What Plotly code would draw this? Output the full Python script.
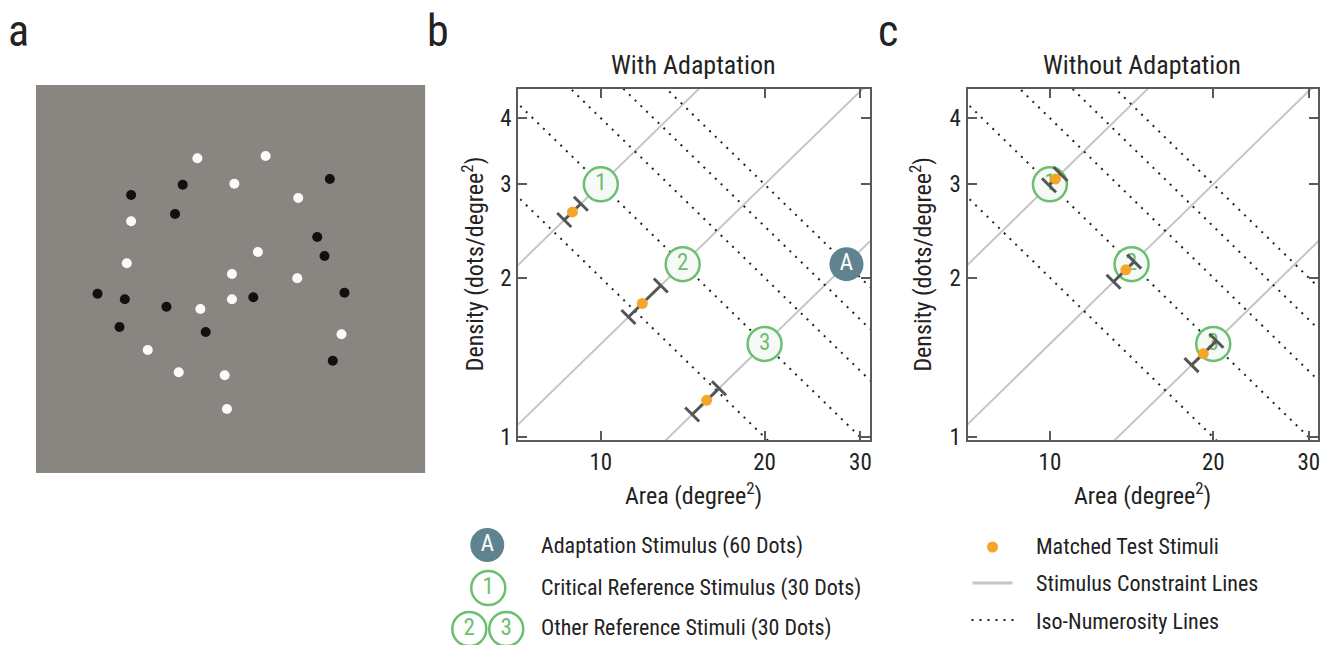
import math
import plotly.graph_objects as go

W, H = 1334, 645          # reference canvas (all layout positions are given in this space)
FIG_H = 656               # page height; the photographed page is rescaled to 645 rows
FONT = "Liberation Sans Narrow, Arial Narrow, Roboto Condensed, Roboto, Liberation Sans, sans-serif"

# ---------------- data ----------------
# panel a: stimulus dots (units: position inside the stimulus square)
white_dot_x = [161.7, 230, 198.7, 262.7, 95.3, 222.3, 91, 196.3, 261.7, 196.3, 164.7, 306, 112, 143, 189, 191.3]
white_dot_y = [73.3, 71, 98.7, 113, 136.3, 167, 178.3, 189, 193.3, 214.3, 224, 249.3, 265, 287.3, 290.3, 324]
black_dot_x = [147, 294.3, 95.3, 139.3, 281.7, 289, 61.7, 89, 309, 130.7, 217.7, 83.7, 170, 297.3]
black_dot_y = [99.7, 94, 110, 129, 152, 171, 208.7, 214.3, 207.7, 221.7, 212.3, 242, 247, 275.7]

# panels b, c
constraint_k = [0.3, 0.15, 0.075]          # density = k * area
iso_numerosity = [20, 30, 40, 50, 60]      # density = N / area
ref_labels = ["1", "2", "3"]
ref_area = [10.0, 14.14, 20.0]
ref_density = [3.0, 2.121, 1.5]
adapt_area = [28.28]
adapt_density = [2.121]
match_k = [0.3, 0.15, 0.075]               # each match lies on its reference's constraint line
b_match_area = [8.87, 11.92, 15.65]
b_err_lo = [8.565, 11.24, 14.72]
b_err_hi = [9.19, 12.89, 16.49]
c_match_area = [10.24, 13.8, 19.17]
c_err_lo = [9.96, 13.1, 18.24]
c_err_hi = [10.46, 14.3, 20.27]
x_ticks = [10, 20, 30]
y_ticks = [1, 2, 3, 4]

# ---------------- style ----------------
GREEN = "#6cbf70"
CIRC_FILL = "#f6faf6"
ADAPT_FILL = "#5f848f"
ORANGE = "#f4a62a"
ERR = "#555555"
CONSTR = "#c6c6c6"
DOT = "#222222"
AXC = "#5a5a5a"
TXT = "#222222"
DOTDASH = "2px,6px"

fig = go.Figure()

# ---------- panel a ----------
fig.add_shape(type="rect", xref="x", yref="y", x0=0, x1=390, y0=0, y1=388,
              fillcolor="#898581", line=dict(width=0), layer="below")
fig.add_trace(go.Scatter(x=black_dot_x, y=black_dot_y, mode="markers", xaxis="x", yaxis="y",
                         marker=dict(size=10, color="#141010", line=dict(width=0)), showlegend=False))
fig.add_trace(go.Scatter(x=white_dot_x, y=white_dot_y, mode="markers", xaxis="x", yaxis="y",
                         marker=dict(size=10, color="#fbfbfb", line=dict(width=0)), showlegend=False))

area_ends = [6.0, 34.0]


def add_panel(xa, ya, m_area, lo, hi, show_adapt, circles_on_top):
    for k in constraint_k:
        fig.add_trace(go.Scatter(x=area_ends, y=[k * a for a in area_ends], mode="lines",
                                 xaxis=xa, yaxis=ya, line=dict(color=CONSTR, width=2),
                                 showlegend=False, hoverinfo="skip"))
    for n in iso_numerosity:
        fig.add_trace(go.Scatter(x=area_ends, y=[n / a for a in area_ends], mode="lines",
                                 xaxis=xa, yaxis=ya, line=dict(color=DOT, width=2, dash=DOTDASH),
                                 showlegend=False, hoverinfo="skip"))

    def circles():
        fig.add_trace(go.Scatter(x=ref_area, y=ref_density, mode="markers+text", text=ref_labels,
                                 textposition="middle center", xaxis=xa, yaxis=ya,
                                 textfont=dict(family=FONT, size=23, color=GREEN),
                                 marker=dict(size=34, color=CIRC_FILL, line=dict(color=GREEN, width=2.5)),
                                 showlegend=False, cliponaxis=False))
        if show_adapt:
            fig.add_trace(go.Scatter(x=adapt_area, y=adapt_density, mode="markers+text", text=["A"],
                                     textposition="middle center", xaxis=xa, yaxis=ya,
                                     textfont=dict(family=FONT, size=23, color="white"),
                                     marker=dict(size=34, color=ADAPT_FILL, line=dict(width=0)),
                                     showlegend=False, cliponaxis=False))

    if not circles_on_top:
        circles()
    # error bars along the constraint lines
    for i in range(len(m_area)):
        k = match_k[i]
        fig.add_trace(go.Scatter(x=[lo[i], hi[i]], y=[k * lo[i], k * hi[i]], mode="lines+markers",
                                 xaxis=xa, yaxis=ya, line=dict(color=ERR, width=3),
                                 marker=dict(symbol="line-nw", size=14, color=ERR,
                                             line=dict(color=ERR, width=3)),
                                 showlegend=False, hoverinfo="skip"))
    fig.add_trace(go.Scatter(x=m_area, y=[match_k[i] * m_area[i] for i in range(len(m_area))],
                             mode="markers", xaxis=xa, yaxis=ya,
                             marker=dict(size=11, color=ORANGE, line=dict(width=0)), showlegend=False))
    if circles_on_top:
        circles()


add_panel("x2", "y2", b_match_area, b_err_lo, b_err_hi, True, True)
add_panel("x3", "y3", c_match_area, c_err_lo, c_err_hi, False, False)

# ---------- legend glyphs (overlay axis in reference-pixel units) ----------
fig.add_trace(go.Scatter(x=[488], y=[545], mode="markers+text", text=["A"], textposition="middle center",
                         xaxis="x4", yaxis="y4", textfont=dict(family=FONT, size=23, color="white"),
                         marker=dict(size=34, color=ADAPT_FILL, line=dict(width=0)), showlegend=False))
fig.add_trace(go.Scatter(x=[489, 470, 507], y=[588, 629, 629], mode="markers+text", text=["1", "2", "3"],
                         textposition="middle center", xaxis="x4", yaxis="y4",
                         textfont=dict(family=FONT, size=23, color=GREEN),
                         marker=dict(size=34, color="white", line=dict(color=GREEN, width=2.5)),
                         showlegend=False))
fig.add_trace(go.Scatter(x=[994], y=[547], mode="markers", xaxis="x4", yaxis="y4",
                         marker=dict(size=11, color=ORANGE, line=dict(width=0)), showlegend=False))
fig.add_trace(go.Scatter(x=[974, 1014], y=[583, 583], mode="lines", xaxis="x4", yaxis="y4",
                         line=dict(color=CONSTR, width=3), showlegend=False))
fig.add_trace(go.Scatter(x=[973, 1018], y=[620, 620], mode="lines", xaxis="x4", yaxis="y4",
                         line=dict(color=DOT, width=2, dash=DOTDASH), showlegend=False))


def px(x):
    return x / W


def py(y):
    return 1 - y / H


ann = []


def text(x, y, s, size, xanchor="center", angle=0, color=TXT):
    ann.append(dict(x=px(x), y=py(y), xref="paper", yref="paper", text=s, showarrow=False,
                    xanchor=xanchor, yanchor="middle", textangle=angle,
                    font=dict(family=FONT, size=size, color=color)))


text(6, 31, "a", 44, "left")
text(426, 31, "b", 44, "left")
text(877, 31, "c", 44, "left")
text(695, 65, "With Adaptation", 26)
text(1144, 65, "Without Adaptation", 26)
text(695, 494, "Area (degree<sup>2</sup>)", 24)
text(1144, 494, "Area (degree<sup>2</sup>)", 24)
text(474, 264, "Density (dots/degree<sup>2</sup>)", 24, angle=-90)
text(922, 264, "Density (dots/degree<sup>2</sup>)", 24, angle=-90)
text(540, 546, "Adaptation Stimulus (60 Dots)", 22, "left")
text(540, 588, "Critical Reference Stimulus (30 Dots)", 22, "left")
text(540, 628, "Other Reference Stimuli (30 Dots)", 22, "left")
text(1036, 546, "Matched Test Stimuli", 22, "left")
text(1036, 583, "Stimulus Constraint Lines", 22, "left")
text(1036, 621, "Iso-Numerosity Lines", 22, "left")

xr = [math.log10(7.05), math.log10(31.2)]
yr = [math.log10(0.988), math.log10(4.54)]


def log_axis(domain, vals, anchor):
    return dict(type="log", domain=domain, range=None, tickvals=vals, ticktext=[str(v) for v in vals],
                ticks="inside", ticklen=9, tickwidth=2, tickcolor=AXC, showline=True, linecolor=AXC,
                linewidth=2, mirror="ticks", showgrid=False, zeroline=False, anchor=anchor,
                tickfont=dict(family=FONT, size=23, color=TXT), fixedrange=True)


xb = log_axis([519 / W, 871 / W], x_ticks, "y2"); xb["range"] = xr
yb = log_axis([1 - 440 / H, 1 - 89 / H], y_ticks, "x2"); yb["range"] = yr
xc = log_axis([969 / W, 1320 / W], x_ticks, "y3"); xc["range"] = xr
yc = log_axis([1 - 440 / H, 1 - 89 / H], y_ticks, "x3"); yc["range"] = yr

hidden = dict(visible=False, showgrid=False, zeroline=False, fixedrange=True)

fig.update_layout(
    width=W, height=FIG_H, autosize=False, margin=dict(l=0, r=0, t=0, b=0),
    paper_bgcolor="white", plot_bgcolor="rgba(0,0,0,0)",
    showlegend=False, font=dict(family=FONT, color=TXT),
    xaxis=dict(hidden, domain=[36 / W, 426 / W], range=[0, 390], anchor="y"),
    yaxis=dict(hidden, domain=[1 - 473 / H, 1 - 85 / H], range=[388, 0], anchor="x"),
    xaxis2=xb, yaxis2=yb, xaxis3=xc, yaxis3=yc,
    xaxis4=dict(hidden, domain=[0, 1], range=[0, W], anchor="y4"),
    yaxis4=dict(hidden, domain=[0, 1], range=[H, 0], anchor="x4"),
    annotations=ann,
)

fig.write_html("out.html", config={"displayModeBar": False, "responsive": False},
               post_script="document.documentElement.style.margin='0';document.body.style.margin='0';"
                           "document.documentElement.style.overflow='hidden';document.body.style.overflow='hidden';")
